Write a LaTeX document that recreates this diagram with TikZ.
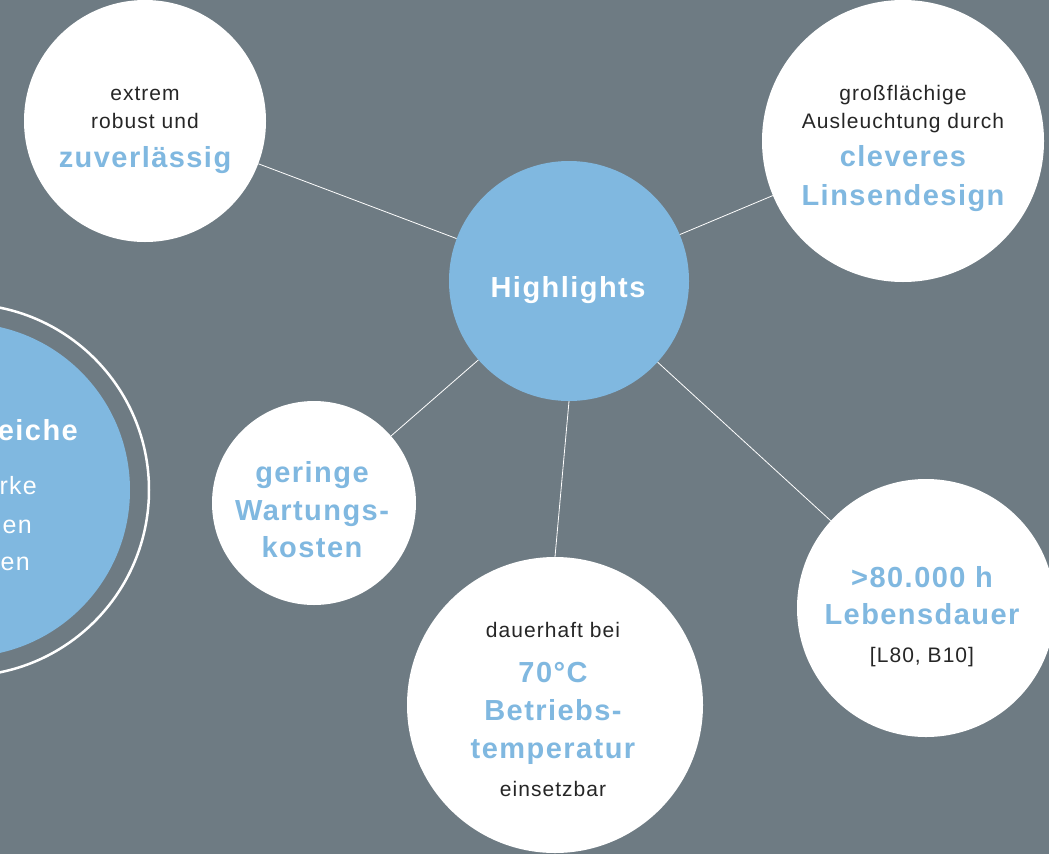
\documentclass[tikz,border=0pt]{standalone}
\usepackage{fontspec}
\setmainfont{Liberation Sans}[LetterSpace=5]
\usepackage{xcolor}
\usepackage{tikz}

\definecolor{bggray}{RGB}{110,123,131}
\definecolor{hlblue}{RGB}{128,184,224}
\newcommand{\hlword}[2][hlblue]{{\color{#1}\fontsize{29}{28}\selectfont\bfseries #2}}

\begin{document}
\begin{tikzpicture}[x=1pt, y=-1pt,
  bubble/.style={circle, fill=white, inner sep=0pt, minimum size=#1},
  txt/.style={align=center, font=\fontsize{21}{28}\selectfont, text=black!85, inner sep=0pt, anchor=base},
  areatxt/.style={anchor=base east, inner sep=0pt, text=white, font=\fontsize{25}{28}\selectfont},
  conn/.style={draw=white, line width=0.8pt},
]
  \useasboundingbox (0,0) rectangle (1049,854);
  \clip (0,0) rectangle (1049,854);
  \fill[bggray] (0,0) rectangle (1049,854);

  % Left (cut off) circle
  \node[bubble=334pt, fill=hlblue] (areas) at (-37,490) {};
  \draw[white, line width=2.5pt] (areas.center) circle[radius=186];
  \node[areatxt] (areas-t1) at (78,440) {\hlword[white]{eiche}};
  \node[areatxt] (areas-t2) at (37,494) {rke};
  \node[areatxt] (areas-t3) at (32,533) {en};
  \node[areatxt] (areas-t4) at (30,570) {en};

  % Bubbles
  \node[bubble=240pt, fill=hlblue] (hl) at (569,281) {};
  \node[bubble=242pt] (robust) at (145,121) {};
  \node[bubble=282pt] (linse) at (903,141) {};
  \node[bubble=204pt] (wartung) at (314,503) {};
  \node[bubble=296pt] (temp) at (555,705) {};
  \node[bubble=258pt] (leben) at (926,608) {};

  % Connectors
  \draw[conn] (hl) -- (robust);
  \draw[conn] (hl) -- (linse);
  \draw[conn] (hl) -- (wartung);
  \draw[conn] (hl.south) -- (temp.north);
  \draw[conn] (hl) -- (leben);

  % Texts (anchored at the baseline of the last line)
  \node[txt] (hl-t) at (568,297) {\hlword[white]{Highlights}};
  \node[txt] (robust-t) at (145,167) {extrem\\robust und\\[11pt]\hlword{zuverlässig}};
  \node[txt] (linse-t) at (903,205) {großflächige\\Ausleuchtung durch\\[10pt]\hlword{cleveres}\\[11pt]\hlword{Linsendesign}};
  \node[txt] (wartung-t) at (312,557) {\hlword{geringe}\\[10pt]\hlword{Wartungs-}\\[9pt]\hlword{kosten}};
  \node[txt] (temp-t) at (553,796) {dauerhaft bei\\[17pt]\hlword{70°C}\\[10pt]\hlword{Betriebs-}\\[10pt]\hlword{temperatur}\\[10pt]einsetzbar};
  \node[txt] (leben-t) at (922,662) {\hlword{>80.000 h}\\[9pt]\hlword{Lebensdauer}\\[10pt]{[L80, B10]}};
\end{tikzpicture}
\end{document}
